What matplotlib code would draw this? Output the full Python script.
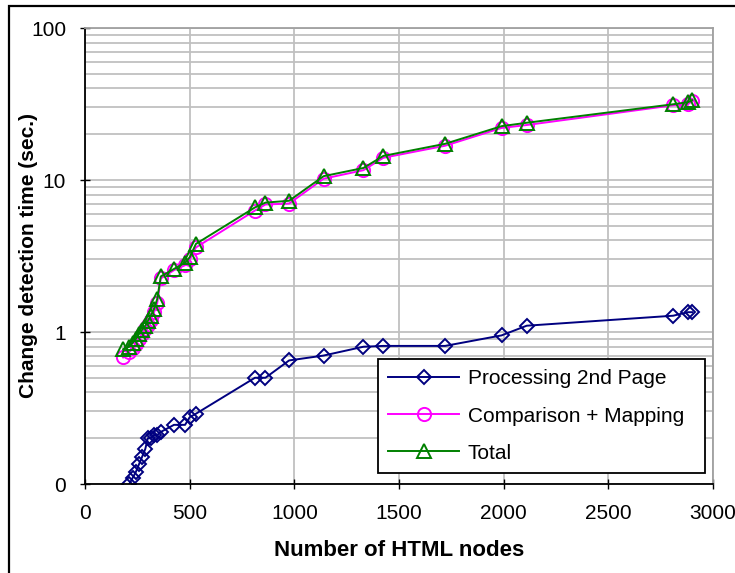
import matplotlib
matplotlib.use("Agg")
import matplotlib.pyplot as plt
from matplotlib.patches import Rectangle
from matplotlib.ticker import FixedLocator, FixedFormatter, LogLocator, NullFormatter

# page sizes (number of HTML nodes)
nodes = [182, 212, 228, 243, 258, 272, 288, 300, 313, 330, 345, 362,
         425, 478, 500, 530, 812, 862, 975, 1140, 1330, 1425, 1720,
         1990, 2110, 2810, 2880, 2900]

processing = [0.08, 0.1, 0.11, 0.12, 0.135, 0.15, 0.17, 0.2, 0.2, 0.21,
              0.21, 0.22, 0.245, 0.245, 0.275, 0.29, 0.5, 0.5, 0.65, 0.7,
              0.8, 0.81, 0.81, 0.95, 1.1, 1.28, 1.35, 1.35]

comparison = [0.68, 0.74, 0.78, 0.84, 0.9, 0.97, 1.05, 1.12, 1.2, 1.35,
              1.55, 2.25, 2.55, 2.75, 3.0, 3.6, 6.3, 6.9, 7.0, 10.2, 11.6,
              14.0, 16.8, 22.0, 23.0, 31.0, 31.5, 33.0]

total = [0.77, 0.8, 0.85, 0.9, 0.97, 1.03, 1.1, 1.18, 1.27, 1.42,
         1.65, 2.32, 2.6, 2.85, 3.1, 3.8, 6.6, 7.1, 7.3, 10.6, 12.0,
         14.4, 17.3, 22.6, 23.8, 31.5, 32.5, 33.5]

series_names = ['Processing 2nd Page', 'Comparison + Mapping', 'Total']
x_ticks = [0, 500, 1000, 1500, 2000, 2500, 3000]
y_ticks = [0.1, 1, 10, 100]
y_tick_labels = ['0', '1', '10', '100']

plt.rcParams['font.family'] = ['Liberation Sans', 'DejaVu Sans']

fig = plt.figure(figsize=(7.35, 5.73), dpi=100)
ax = fig.add_axes([85 / 735, 1 - 484 / 573, 628 / 735, 456 / 573])

# chart-area border (only top/left fall inside the picture)
fig.patches.append(Rectangle((9 / 735, -0.1), 1.2, 1 - 6 / 573 + 0.1,
                             transform=fig.transFigure, fill=False,
                             edgecolor='black', linewidth=1.6))

ax.set_yscale('log')
ax.set_xlim(0, 3000)
ax.set_ylim(0.1, 100)

grid_col = '#c0c0c0'
ax.xaxis.set_major_locator(FixedLocator(x_ticks))
ax.yaxis.set_major_locator(FixedLocator(y_ticks))
ax.yaxis.set_major_formatter(FixedFormatter(y_tick_labels))
ax.yaxis.set_minor_locator(LogLocator(base=10, subs=range(2, 10)))
ax.yaxis.set_minor_formatter(NullFormatter())
ax.grid(True, which='major', color=grid_col, linewidth=1.3)
ax.grid(True, which='minor', axis='y', color=grid_col, linewidth=1.3)
ax.set_axisbelow(True)

ax.tick_params(axis='both', which='major', direction='inout', length=7,
               width=1, labelsize=15, colors='black')
ax.tick_params(axis='y', which='minor', length=0)
ax.tick_params(axis='x', pad=11)
ax.tick_params(axis='y', pad=10)

for side in ['top', 'right']:
    ax.spines[side].set_color('#a0a0a0')
    ax.spines[side].set_linewidth(1.3)
for side in ['left', 'bottom']:
    ax.spines[side].set_linewidth(1.3)

ax.plot(nodes, processing, color='#000080', lw=1.4, marker='D', ms=7.5,
        mfc='none', mec='#000080', mew=1.4, label=series_names[0])
ax.plot(nodes, comparison, color='#ff00ff', lw=1.4, marker='o', ms=9.5,
        mfc='none', mec='#ff00ff', mew=1.4, label=series_names[1])
ax.plot(nodes, total, color='#008000', lw=1.4, marker='^', ms=9.5,
        mfc='none', mec='#008000', mew=1.4, label=series_names[2])

ax.set_xlabel('Number of HTML nodes', fontsize=16, fontweight='bold', labelpad=12)
ax.set_ylabel('Change detection time (sec.)', fontsize=15, fontweight='bold')
ax.yaxis.set_label_coords(-0.075, 0.5)

leg = ax.legend(loc='lower left', bbox_to_anchor=(0.4666, 0.024, 0.5207, 0.3),
                mode='expand', borderaxespad=0, fontsize=15, fancybox=False,
                shadow=False, framealpha=1, edgecolor='black',
                handlelength=3.4, handletextpad=0.4, labelspacing=0.87,
                borderpad=0.5)
leg.get_frame().set_linewidth(1.3)

fig.savefig('out.png', dpi=100)
